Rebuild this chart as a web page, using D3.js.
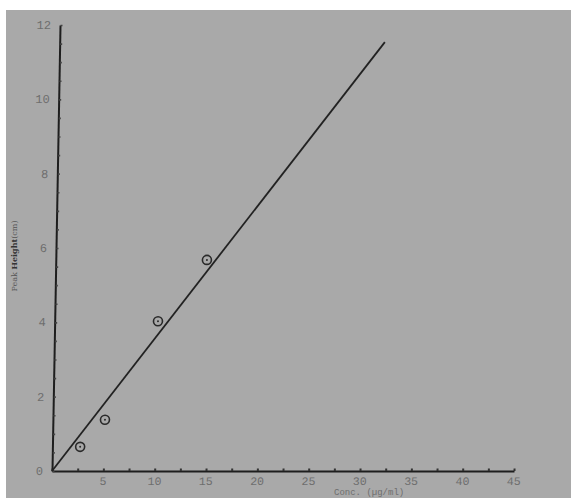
<!DOCTYPE html>
<html>
<head>
<meta charset="utf-8">
<script src="https://cdn.jsdelivr.net/npm/d3@7"></script>
<style>
  body { margin: 0; background: #fff; }
  svg { display: block; }
</style>
</head>
<body>
<svg id="chart" width="571" height="498"></svg>
<script>
// values
var concValues = [2.7, 5.07, 10.06, 14.72];
var heightValues = [0.65, 1.38, 4.03, 5.68];
var fitLine = [[0, 0], [31.67, 11.54]];
var xTickLabels = [5, 10, 15, 20, 25, 30, 35, 40, 45];
var yTickLabels = [0, 2, 4, 6, 8, 10, 12];
var xMinorTicks = d3.range(0, 45.01, 2.5);
var yMinorTicks = d3.range(0, 12.01, 0.5);

var svg = d3.select("#chart");

// paper (scan has a white margin top and left)
svg.append("rect").attr("x", 6).attr("y", 10).attr("width", 565).attr("height", 488).attr("fill", "#a9a9a9");

var x = d3.scaleLinear().domain([0, 45]).range([52, 514]);
var y = d3.scaleLinear().domain([0, 12]).range([471, 25]);

// the scanned page is slightly skewed: y axis leans right toward the top
var g = svg.append("g")
    .attr("transform", "translate(52,471) skewX(-1.03) translate(-52,-471)");

var labelFont = "'Liberation Mono', 'DejaVu Sans Mono', monospace";

// x axis
var xAxis = g.append("g").attr("transform", "translate(0," + y(0) + ")")
    .call(d3.axisBottom(x).tickValues(xMinorTicks).tickSize(0).tickFormat(""));
xAxis.select(".domain").attr("stroke", "#1e1e1e").attr("stroke-width", 2);
xAxis.selectAll(".tick line").remove();
xAxis.selectAll(".tick").append("rect")
    .attr("x", -1).attr("y", -2.5).attr("width", 2).attr("height", 2.5).attr("fill", "#333");

g.selectAll(".xlab").data(xTickLabels).enter().append("text")
    .attr("class", "xlab")
    .attr("x", function(d){ return x(d); })
    .attr("y", y(0) + 14)
    .attr("text-anchor", "middle")
    .attr("font-family", labelFont).attr("font-size", 11.5).attr("fill", "#6e6e6e")
    .text(function(d){ return d; });

// y axis
var yAxis = g.append("g").attr("transform", "translate(" + x(0) + ",0)")
    .call(d3.axisLeft(y).tickValues(yMinorTicks).tickSize(0).tickFormat(""));
yAxis.select(".domain").attr("stroke", "#1e1e1e").attr("stroke-width", 2);
yAxis.selectAll(".tick line").remove();
yAxis.selectAll(".tick").append("rect")
    .attr("x", 0.5).attr("y", -0.8).attr("width", 2).attr("height", 1.6).attr("fill", "#444");

g.selectAll(".ylab").data(yTickLabels).enter().append("text")
    .attr("class", "ylab")
    .attr("x", x(0) - 9)
    .attr("y", function(d){ return y(d) + 4; })
    .attr("text-anchor", "end")
    .attr("font-family", labelFont).attr("font-size", 12).attr("fill", "#6e6e6e")
    .text(function(d){ return d; });

// fitted calibration line
g.append("path")
    .datum(fitLine)
    .attr("d", d3.line().x(function(d){ return x(d[0]); }).y(function(d){ return y(d[1]); }))
    .attr("fill", "none").attr("stroke", "#222").attr("stroke-width", 1.8);

// circled points
var pts = g.selectAll(".pt").data(concValues).enter().append("g")
    .attr("class", "pt")
    .attr("transform", function(d, i){ return "translate(" + x(d) + "," + y(heightValues[i]) + ")"; });
pts.append("circle").attr("r", 4.5).attr("fill", "none").attr("stroke", "#2a2a2a").attr("stroke-width", 1.6);
pts.append("circle").attr("r", 1).attr("fill", "#2a2a2a");

// axis titles
svg.append("text")
    .attr("transform", "translate(17,256) rotate(-90)")
    .attr("text-anchor", "middle")
    .attr("font-family", "'DejaVu Serif', serif").attr("font-size", 8).attr("fill", "#555")
    .html("Peak <tspan font-weight='bold' fill='#333'>Height</tspan>(cm)");

svg.append("text")
    .attr("x", 334).attr("y", 495)
    .attr("font-family", labelFont).attr("font-size", 9).attr("fill", "#6e6e6e")
    .text("Conc. (\u00b5g/ml)");
</script>
</body>
</html>
